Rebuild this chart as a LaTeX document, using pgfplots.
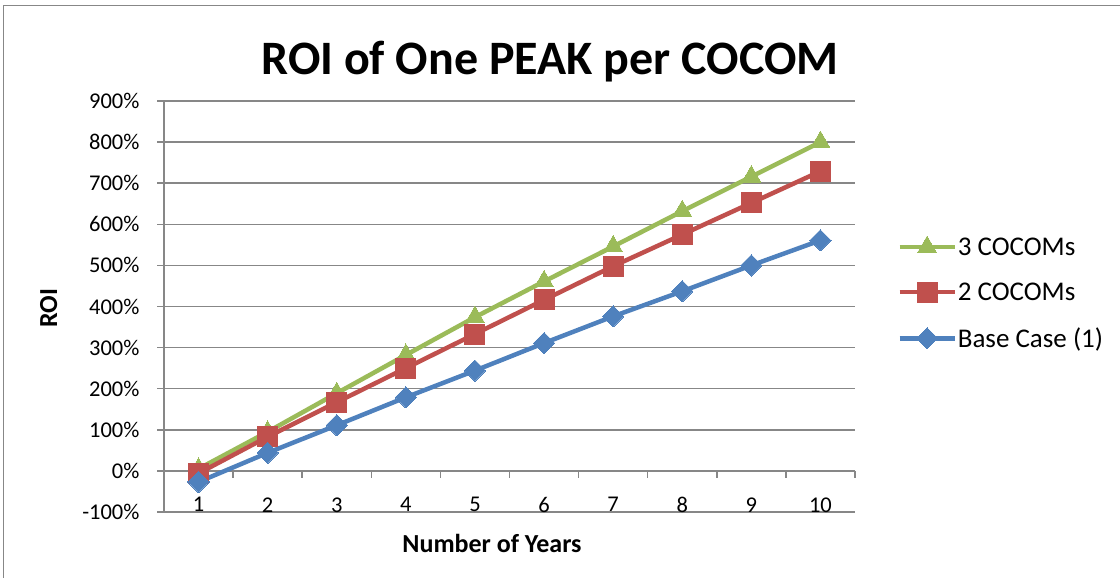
\documentclass[border=0pt]{standalone}
\usepackage{pgfplots}
\pgfplotsset{compat=1.18}
\usepackage{fontspec}
\setmainfont{Carlito}
\definecolor{cgreen}{HTML}{9BBB59}
\definecolor{cred}{HTML}{C0504D}
\definecolor{cblue}{HTML}{4F81BD}
\definecolor{cgrid}{HTML}{878787}
\begin{document}
\begin{tikzpicture}
\path[use as bounding box] (0pt,0pt) rectangle (1120pt,578pt);
\draw[cgrid, line width=1.5pt] (3.5pt,0pt) -- (3.5pt,572.5pt) -- (1120pt,572.5pt);
\node[font=\fontsize{48}{56}\selectfont\bfseries, anchor=base, inner sep=0pt] at (550pt,503pt) {ROI of One PEAK per COCOM};
\begin{axis}[
  at={(164pt,66pt)}, anchor=south west,
  width=691pt, height=411pt, scale only axis,
  xmin=0.5, xmax=10.5, ymin=-100, ymax=900,
  axis x line*=middle, axis y line*=left,
  axis line style={cgrid, line width=1.5pt, -},
  tick style={cgrid, line width=1.5pt},
  tick align=outside, major tick length=7pt,
  xtick={0.5,1.5,...,10.5}, xticklabels={},
  extra x ticks={1,2,...,10},
  extra x tick labels={1,2,3,4,5,6,7,8,9,10},
  extra x tick style={major tick length=0pt, grid=none,
     xticklabel style={yshift=-23pt}},
  ytick={-100,0,100,...,900},
  yticklabels={-100\%,0\%,100\%,200\%,300\%,400\%,500\%,600\%,700\%,800\%,900\%},
  ymajorgrids, grid style={cgrid, line width=1.5pt},
  ticklabel style={font=\fontsize{22.5}{27}\selectfont},
  yticklabel style={anchor=east, xshift=-14pt},
  legend style={draw=none, fill=none, at={(1.061,0.5328)}, anchor=west,
     inner sep=0pt, font=\fontsize{27}{32}\selectfont, row sep=24pt,
     nodes={inner sep=1pt}},
  legend cell align=left,
  legend image code/.code={\draw[mark repeat=2,mark phase=2] plot coordinates {(0pt,0pt) (27.5pt,0pt) (55pt,0pt)};},
  every axis plot/.append style={line width=4.5pt},
]
\addplot[cgreen, mark=triangle*, mark size=11pt, mark options={solid, line width=0pt}] coordinates {
(1,5) (2,95) (3,189) (4,282) (5,374) (6,461) (7,546) (8,632) (9,716) (10,800)};
\addlegendentry{3 COCOMs}
\addplot[cred, mark=square*, mark size=10pt, mark options={solid, line width=0pt}] coordinates {
(1,-6) (2,83) (3,167) (4,250) (5,333) (6,416) (7,498) (8,575) (9,652) (10,729)};
\addlegendentry{2 COCOMs}
\addplot[cblue, mark=square*, mark size=7.5pt, mark options={solid, line width=0pt, rotate=45}] coordinates {
(1,-27) (2,44) (3,111) (4,179) (5,244) (6,311) (7,376) (8,437) (9,500) (10,561)};
\addlegendentry{Base Case (1)}
\end{axis}
\node[font=\fontsize{26}{30}\selectfont\bfseries, anchor=base, inner sep=0pt] at (492pt,25pt) {Number of Years};
\node[font=\fontsize{26}{30}\selectfont\bfseries, anchor=base, rotate=90, inner sep=0pt] at (57pt,270pt) {ROI};
\end{tikzpicture}
\end{document}
